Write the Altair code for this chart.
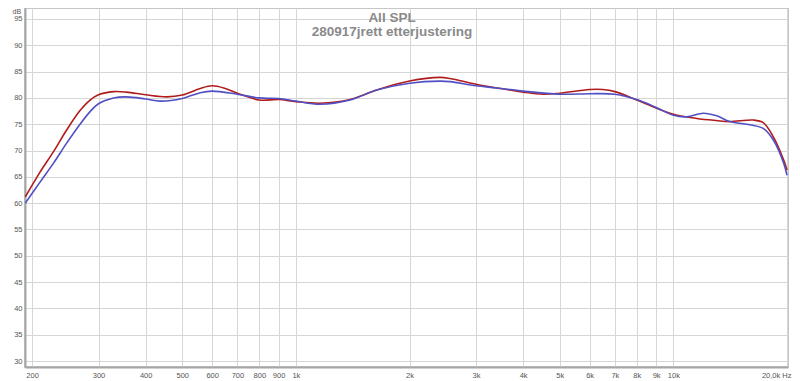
import altair as alt
import pandas as pd

# ---- data ----
red_freq = [192, 210, 228, 247, 268, 285, 300, 329, 356, 400, 455, 500, 558, 600, 650,
            700, 800, 900, 1000, 1158, 1392, 1637, 2000, 2408, 2561, 3000, 3405, 4000,
            4523, 5000, 6000, 6500, 7000, 8000, 9000, 10000, 11530, 13000, 14100, 16300,
            17300, 18400, 19600, 20000]
red_db = [61.2, 65.9, 69.8, 73.9, 77.6, 79.6, 80.6, 81.2, 81.1, 80.6, 80.2, 80.55, 81.8, 82.3, 81.8,
          80.9, 79.6, 79.7, 79.3, 79.0, 79.7, 81.5, 83.2, 83.9, 83.7, 82.6, 81.9, 81.1,
          80.7, 80.9, 81.6, 81.6, 81.2, 79.6, 78.1, 76.9, 76.1, 75.7, 75.5, 75.8,
          75.3, 72.6, 68.2, 66.3]

blue_freq = [192, 210, 228, 247, 268, 285, 300, 329, 356, 400, 437, 500, 558, 600, 700,
             800, 900, 1000, 1158, 1392, 1637, 2000, 2408, 2561, 3000, 3405, 4000, 5000,
             6000, 7000, 8000, 9000, 10000, 10850, 12000, 13030, 14100, 15960, 17300,
             18400, 19600, 20000]
blue_db = [60.0, 64.0, 67.6, 71.4, 75.0, 77.4, 78.9, 80.0, 80.2, 79.8, 79.4, 79.9, 81.0, 81.3, 80.7,
           80.0, 79.9, 79.4, 78.8, 79.6, 81.5, 82.8, 83.2, 83.1, 82.3, 81.9, 81.3, 80.7,
           80.8, 80.7, 79.7, 78.2, 76.7, 76.4, 77.1, 76.6, 75.5, 74.9, 74.2,
           72.0, 67.6, 65.3]

series_names = ["red", "blue"]
series_colors = ["#b01c1c", "#5050c4"]

x_ticks = [200, 300, 400, 500, 600, 700, 800, 900, 1000, 2000, 3000, 4000, 5000,
           6000, 7000, 8000, 9000, 10000, 20000]
y_ticks = list(range(30, 100, 5))

title_line1 = "All SPL"
title_line2 = "280917jrett etterjustering"

df = pd.concat([
    pd.DataFrame({"freq": red_freq, "db": red_db, "series": "red", "order": 0}),
    pd.DataFrame({"freq": blue_freq, "db": blue_db, "series": "blue", "order": 1}),
])

W, H = 763, 359

x_enc = alt.X(
    "freq:Q",
    scale=alt.Scale(type="log", domain=[191.6, 20122], nice=False),
    axis=alt.Axis(
        values=x_ticks,
        labelExpr="datum.value >= 20000 ? '20,0k Hz' : (datum.value >= 1000 ? (datum.value/1000) + 'k' : datum.value + '')",
        labelAlign={"condition": {"test": "datum.value >= 20000", "value": "right"}, "value": "center"},
        labelOffset={"condition": {"test": "datum.value >= 20000", "value": 4}, "value": 0},
        title=None,
        grid=True,
        gridColor="#d6d6d6",
        gridWidth=1,
        ticks=False,
        domain=True,
        domainColor="#a6a6a6",
        domainWidth=2,
        labelFont="Liberation Sans",
        labelFontSize=7.5,
        labelColor="#555555",
        labelPadding=4,
        labelOverlap=False,
        labelFlush=False,
    ),
)

y_enc = alt.Y(
    "db:Q",
    scale=alt.Scale(domain=[28.86, 97.09], nice=False, zero=False),
    axis=alt.Axis(
        values=y_ticks,
        title="dB",
        titleAngle=0,
        titleX=-13,
        titleY=5.5,
        titleAlign="left",
        titleBaseline="alphabetic",
        titleFont="Liberation Sans",
        titleFontSize=7,
        titleFontWeight="normal",
        titleColor="#555555",
        grid=True,
        gridColor="#d6d6d6",
        gridWidth=1,
        ticks=False,
        domain=True,
        domainColor="#a6a6a6",
        domainWidth=2,
        labelFont="Liberation Sans",
        labelFontSize=7.5,
        labelColor="#555555",
        labelPadding=3,
        labelOverlap=False,
    ),
)

lines = alt.Chart(df).mark_line(interpolate="catmull-rom", strokeWidth=1.6, clip=True).encode(
    x=x_enc,
    y=y_enc,
    color=alt.Color("series:N", scale=alt.Scale(domain=series_names, range=series_colors), legend=None),
    order="order:Q",
    detail="series:N",
)

title_data = alt.Data(values=[{"a": 1}])
t1 = alt.Chart(title_data).mark_text(
    font="Liberation Sans", fontSize=13.5, fontWeight="bold", color="#8a8a8a",
    align="center", baseline="alphabetic",
).encode(x=alt.value(367), y=alt.value(13.5), text=alt.value(title_line1))
t2 = alt.Chart(title_data).mark_text(
    font="Liberation Sans", fontSize=13.5, fontWeight="bold", color="#8a8a8a",
    align="center", baseline="alphabetic",
).encode(x=alt.value(367), y=alt.value(27.5), text=alt.value(title_line2))

chart = alt.layer(lines, t1, t2).properties(
    width=W,
    height=H,
    autosize=alt.AutoSizeParams(type="none"),
    padding={"left": 17, "top": 0, "right": 4, "bottom": 14},
    background="white",
).configure_view(
    stroke="#b4b4b4",
    strokeWidth=1.5,
)

chart.save("out.html", embed_options={"renderer": "svg", "actions": False})
